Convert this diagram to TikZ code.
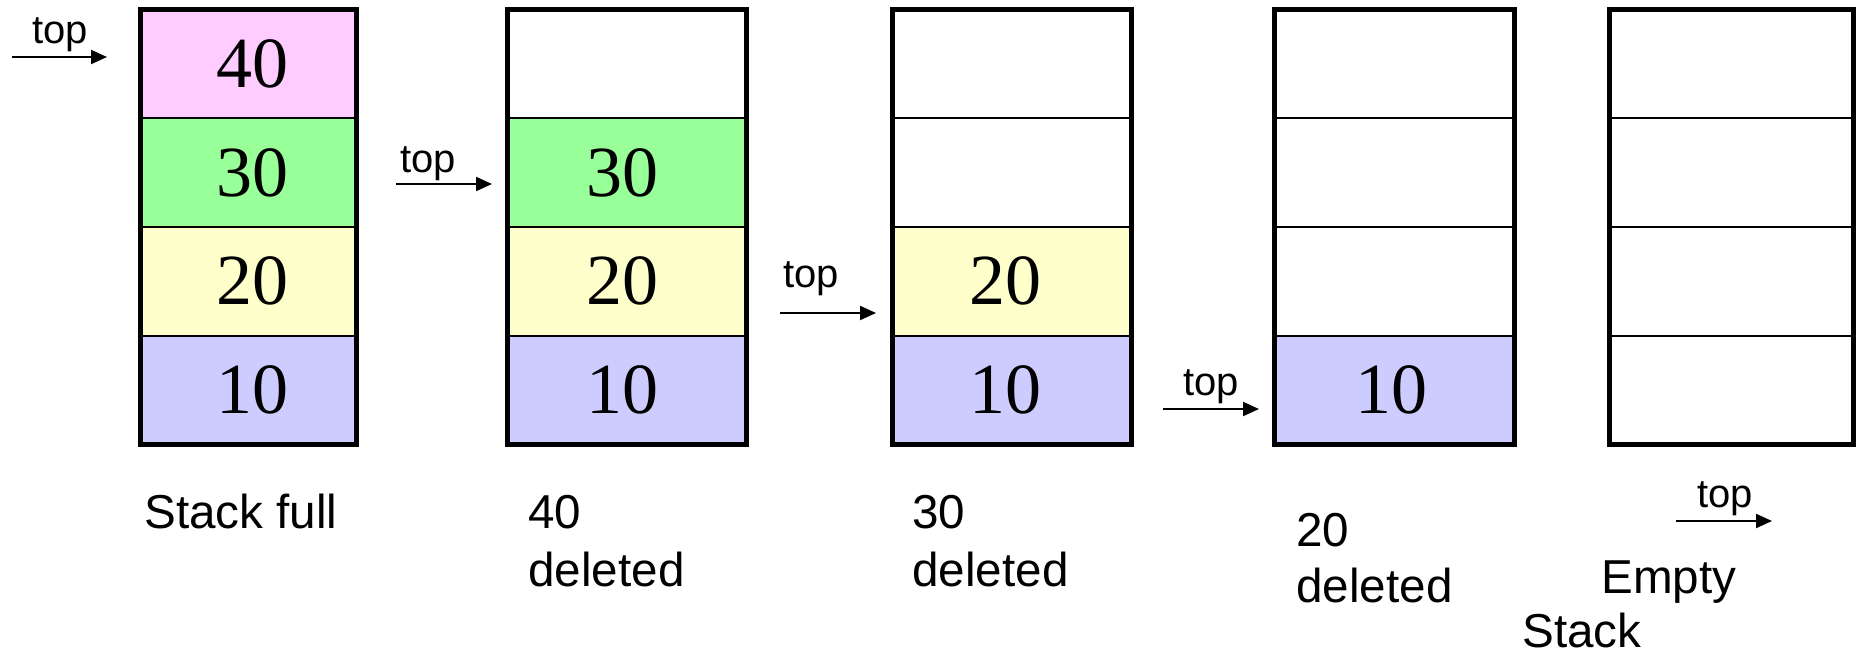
\documentclass[tikz,border=0pt]{standalone}
\usepackage{fontspec}
\setmainfont{Liberation Serif}
\newfontfamily\arialf{Liberation Sans}
\usetikzlibrary{arrows.meta}
\definecolor{cpink}{HTML}{FFCCFF}
\definecolor{cgreen}{HTML}{99FF99}
\definecolor{cyellow}{HTML}{FFFFCC}
\definecolor{cblue}{HTML}{CCCCFF}
\newcommand{\rsh}[2]{\hspace*{#1pt}#2}
\newcommand{\lsh}[2]{#2\hspace*{#1pt}}
\begin{document}
\begin{tikzpicture}[x=0.5pt,y=-0.5pt,
  cell/.style={rectangle, draw=black, line width=1pt, inner sep=0pt, outer sep=0pt,
    minimum height=54.375pt, font=\fontsize{36}{36}\selectfont},
  wa/.style={minimum width=108pt},
  wb/.style={minimum width=119.5pt},
  wc/.style={minimum width=120pt},
  wd/.style={minimum width=122pt},
  frame/.style={draw=black, line width=2.5pt},
  ptr/.style={draw=black, line width=1pt, -{Triangle[length=8pt,width=7pt]}},
  toplbl/.style={anchor=base west, inner sep=0pt, font=\arialf\fontsize{20}{20}\selectfont},
  captxt/.style={anchor=base west, inner sep=0pt, align=left, font=\arialf\fontsize{23.8}{28}\selectfont}
]
\useasboundingbox (0,0) rectangle (1856,654);

% Stack 1
\node[cell, wa, fill=cpink]   (s1d) at (248.5,63.875)  {\rsh{4}{40}};
\node[cell, wa, fill=cgreen]  (s1c) at (248.5,172.625) {\rsh{4}{30}};
\node[cell, wa, fill=cyellow] (s1b) at (248.5,281.375) {\rsh{4}{20}};
\node[cell, wa, fill=cblue]   (s1a) at (248.5,390.125) {\rsh{4}{10}};
\draw[frame] (s1d.north west) rectangle (s1a.south east);

% Stack 2
\node[cell, wb, fill=white]   (s2d) at (627,63.875)  {};
\node[cell, wb, fill=cgreen]  (s2c) at (627,172.625) {\lsh{5}{30}};
\node[cell, wb, fill=cyellow] (s2b) at (627,281.375) {\lsh{5}{20}};
\node[cell, wb, fill=cblue]   (s2a) at (627,390.125) {\lsh{5}{10}};
\draw[frame] (s2d.north west) rectangle (s2a.south east);

% Stack 3
\node[cell, wb, fill=white]   (s3d) at (1012,63.875)  {};
\node[cell, wb, fill=white]   (s3c) at (1012,172.625) {};
\node[cell, wb, fill=cyellow] (s3b) at (1012,281.375) {\lsh{7}{20}};
\node[cell, wb, fill=cblue]   (s3a) at (1012,390.125) {\lsh{7}{10}};
\draw[frame] (s3d.north west) rectangle (s3a.south east);

% Stack 4
\node[cell, wc, fill=white]   (s4d) at (1394.5,63.875)  {};
\node[cell, wc, fill=white]   (s4c) at (1394.5,172.625) {};
\node[cell, wc, fill=white]   (s4b) at (1394.5,281.375) {};
\node[cell, wc, fill=cblue]   (s4a) at (1394.5,390.125) {\lsh{3}{10}};
\draw[frame] (s4d.north west) rectangle (s4a.south east);

% Stack 5
\node[cell, wd, fill=white]   (s5d) at (1731.5,63.875)  {};
\node[cell, wd, fill=white]   (s5c) at (1731.5,172.625) {};
\node[cell, wd, fill=white]   (s5b) at (1731.5,281.375) {};
\node[cell, wd, fill=white]   (s5a) at (1731.5,390.125) {};
\draw[frame] (s5d.north west) rectangle (s5a.south east);

% top pointers
\coordinate (a1s) at (12,57);    \coordinate (a1e) at (107,57);
\coordinate (a2s) at (396,184);  \coordinate (a2e) at (492,184);
\coordinate (a3s) at (780,313);  \coordinate (a3e) at (876,313);
\coordinate (a4s) at (1163,409); \coordinate (a4e) at (1259,409);
\coordinate (a5s) at (1676,521); \coordinate (a5e) at (1772,521);
\draw[ptr] (a1s) -- (a1e);
\draw[ptr] (a2s) -- (a2e);
\draw[ptr] (a3s) -- (a3e);
\draw[ptr] (a4s) -- (a4e);
\draw[ptr] (a5s) -- (a5e);
\node[toplbl] (t1) at (32,43)    {top};
\node[toplbl] (t2) at (400,172)  {top};
\node[toplbl] (t3) at (783,287)  {top};
\node[toplbl] (t4) at (1183,395) {top};
\node[toplbl] (t5) at (1697,507) {top};

% captions
\node[captxt] (c1) at (144,528) {Stack full};
\node[captxt] (c2a) at (528,528) {40};
\node[captxt] (c2b) at (528,586) {deleted};
\node[captxt] (c3a) at (912,528) {30};
\node[captxt] (c3b) at (912,586) {deleted};
\node[captxt] (c4a) at (1296,546) {20};
\node[captxt] (c4b) at (1296,602) {deleted};
\node[captxt] (c5a) at (1601,593) {Empty};
\node[captxt] (c5b) at (1522,647) {Stack};
\end{tikzpicture}
\end{document}
